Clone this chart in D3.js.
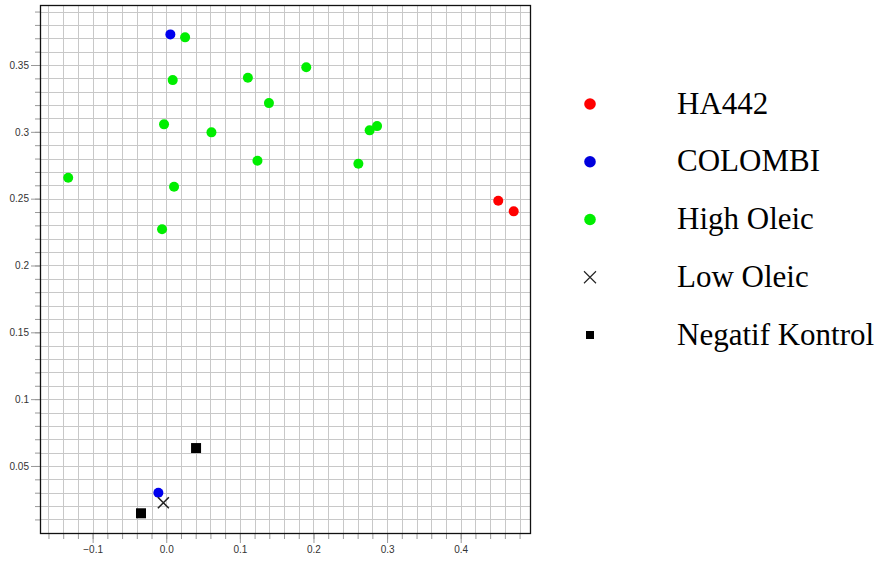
<!DOCTYPE html>
<html>
<head>
<meta charset="utf-8">
<script src="https://cdn.jsdelivr.net/npm/d3@7"></script>
<style>
  body { margin: 0; background: #fff; }
  svg { display: block; }
  .tick text { font-family: "Liberation Sans", Arial, sans-serif; font-size: 10px; fill: #333; }
  .legend text { font-family: "Liberation Serif", "Times New Roman", serif; font-size: 31px; fill: #000; }
</style>
</head>
<body>
<div id="chart"></div>
<script>
// data, [x, y]
var ha442 = [[0.451, 0.2484], [0.472, 0.2405]];
var colombi = [[0.0056, 0.3729], [-0.0107, 0.0300]];
var highOleic = [
  [0.0256, 0.3707], [0.0088, 0.3387], [0.1109, 0.3405], [0.1395, 0.3215],
  [-0.003, 0.3056], [0.0614, 0.2996], [0.1239, 0.2784], [-0.1332, 0.2657],
  [0.0106, 0.2589], [-0.0057, 0.2271], [0.1902, 0.3483], [0.2864, 0.3043],
  [0.2763, 0.3011], [0.2610, 0.2761]
];
var lowOleic = [[-0.0039, 0.0225]];
var negatifKontrol = [[0.0405, 0.0634], [-0.0343, 0.0146]];

var legendNames = ["HA442", "COLOMBI", "High Oleic", "Low Oleic", "Negatif Kontrol"];
var xLabelTicks = [-0.1, 0.0, 0.1, 0.2, 0.3, 0.4];
var yLabelTicks = [0.05, 0.1, 0.15, 0.2, 0.25, 0.3, 0.35];

var W = 880, H = 562;
var margin = {top: 5, left: 40, right: 349, bottom: 28};
var width = W - margin.left - margin.right,
    height = H - margin.top - margin.bottom;

var x = d3.scaleLinear().domain([-0.1715, 0.4955]).range([0, width]);
var y = d3.scaleLinear().domain([-0.0009, 0.3949]).range([height, 0]);

// grid steps: 0.02 across, 0.01 up
var xGrid = d3.range(-8, 25).map(function(i) { return +(i * 0.02).toFixed(2); });
var yGrid = d3.range(1, 40).map(function(i) { return +(i * 0.01).toFixed(2); });

var svg = d3.select("#chart").append("svg")
    .attr("width", W).attr("height", H);

var g = svg.append("g")
    .attr("transform", "translate(" + margin.left + "," + margin.top + ")");

// grid
g.append("g").selectAll("line").data(xGrid).enter().append("line")
    .attr("x1", function(d) { return Math.round(x(d)) + 0.5; })
    .attr("x2", function(d) { return Math.round(x(d)) + 0.5; })
    .attr("y1", 0).attr("y2", height)
    .attr("stroke", "#c8c8c8").attr("stroke-width", 1);
g.append("g").selectAll("line").data(yGrid).enter().append("line")
    .attr("y1", function(d) { return Math.round(y(d)) + 0.5; })
    .attr("y2", function(d) { return Math.round(y(d)) + 0.5; })
    .attr("x1", 0).attr("x2", width)
    .attr("stroke", "#c8c8c8").attr("stroke-width", 1);

// minor ticks
var xMinor = d3.axisBottom(x).tickValues(xGrid).tickSize(5).tickFormat("");
var yMinor = d3.axisLeft(y).tickValues(yGrid).tickSize(5).tickFormat("");
// labelled ticks
var xAxis = d3.axisBottom(x).tickValues(xLabelTicks).tickSize(9).tickPadding(3)
    .tickFormat(d3.format(".1f"));
var yAxis = d3.axisLeft(y).tickValues(yLabelTicks).tickSize(9).tickPadding(2)
    .tickFormat(function(d) { return String(+d.toFixed(2)); });

[[xMinor, "x"], [xAxis, "x"], [yMinor, "y"], [yAxis, "y"]].forEach(function(a) {
  var ax = g.append("g")
      .attr("class", a[1] + " axis")
      .attr("transform", a[1] == "x" ? "translate(0," + height + ")" : null)
      .call(a[0]);
  ax.select(".domain").remove();
  ax.selectAll(".tick line").attr("stroke", "#999");
});

// frame
g.append("rect")
    .attr("x", 0.5).attr("y", 0.5)
    .attr("width", width - 1).attr("height", height - 1)
    .attr("fill", "none").attr("stroke", "#111").attr("stroke-width", 1.3);

// points
function dots(data, color) {
  g.append("g").selectAll("circle").data(data).enter().append("circle")
      .attr("cx", function(d) { return x(d[0]); })
      .attr("cy", function(d) { return y(d[1]); })
      .attr("r", 5)
      .attr("fill", color);
}
dots(highOleic, "#00ee00");
dots(ha442, "#ff0000");
dots(colombi, "#0000ee");

g.append("g").selectAll("rect").data(negatifKontrol).enter().append("rect")
    .attr("x", function(d) { return x(d[0]) - 5; })
    .attr("y", function(d) { return y(d[1]) - 5; })
    .attr("width", 10).attr("height", 10)
    .attr("fill", "#000");

g.append("g").selectAll("path").data(lowOleic).enter().append("path")
    .attr("d", function(d) {
      var cx = x(d[0]), cy = y(d[1]), s = 5.5;
      return "M" + (cx - s) + "," + (cy - s) + "L" + (cx + s) + "," + (cy + s) +
             "M" + (cx - s) + "," + (cy + s) + "L" + (cx + s) + "," + (cy - s);
    })
    .attr("stroke", "#222").attr("stroke-width", 1.6).attr("fill", "none");

// legend
var legY = d3.scalePoint().domain(legendNames).range([104, 335]);
var legendColors = {"HA442": "#ff0000", "COLOMBI": "#0000dd", "High Oleic": "#00ee00"};

var leg = svg.append("g").attr("class", "legend");
var item = leg.selectAll("g").data(legendNames).enter().append("g")
    .attr("transform", function(d) { return "translate(590," + legY(d) + ")"; });

item.each(function(d) {
  var el = d3.select(this);
  if (legendColors[d]) {
    el.append("circle").attr("r", 5.8).attr("fill", legendColors[d]);
  } else if (d == "Low Oleic") {
    el.append("path").attr("d", "M-6,-6L6,6M-6,6L6,-6")
        .attr("stroke", "#222").attr("stroke-width", 1.1).attr("fill", "none");
  } else {
    el.append("rect").attr("x", -4).attr("y", -4).attr("width", 8).attr("height", 8)
        .attr("fill", "#000");
  }
});

item.append("text")
    .attr("x", 87)
    .attr("y", 9.5)
    .text(function(d) { return d; });
</script>
</body>
</html>
